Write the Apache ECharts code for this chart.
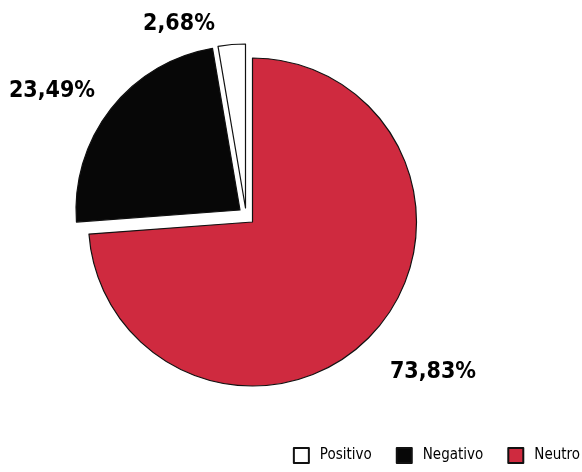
<!DOCTYPE html>
<html>
<head>
<meta charset="utf-8">
<script src="https://cdn.jsdelivr.net/npm/echarts@6/dist/echarts.min.js"></script>
<style>html,body{margin:0;padding:0;background:#fff}#c{width:582px;height:472px}</style>
</head>
<body>
<div id="c"></div>
<script>
const categories = ['Neutro', 'Negativo', 'Positivo'];
const values = [73.83, 23.49, 2.68];
const labelTexts = ['73,83%', '23,49%', '2,68%'];
const legendOrder = ['Positivo', 'Negativo', 'Neutro'];
const colors = ['#CF2A3F', '#070707', '#FFFFFF'];

const FONT = '"DejaVu Sans Condensed", "Liberation Sans Narrow", sans-serif';
// per-slice geometry (red in place, others exploded)
const centers = [[252.5, 222], [240, 210], [245.5, 208]];
const labelPos = [[433, 372], [52, 91], [179, 24]];

const series = categories.map((cat, i) => ({
  type: 'pie',
  silent: true,
  startAngle: 90,
  clockwise: true,
  center: centers[i],
  radius: 164,
  animation: false,
  labelLine: { show: false },
  label: {
    show: true,
    position: 'inner',
    overflow: 'none',
    fontFamily: FONT,
    fontWeight: 'bold',
    fontSize: 23,
    color: '#000',
    formatter: () => labelTexts[i]
  },
  labelLayout: () => ({ x: labelPos[i][0], y: labelPos[i][1], align: 'center', verticalAlign: 'middle' }),
  data: values.map((v, j) => j === i
    ? { value: v, name: categories[j], itemStyle: { color: colors[j], borderColor: '#111', borderWidth: 1.2 } }
    : { value: v, name: '', itemStyle: { color: 'transparent', borderWidth: 0 }, label: { show: false } })
}));

const chart = echarts.init(document.getElementById('c'), null, { renderer: 'canvas' });
chart.setOption({
  backgroundColor: '#fff',
  animation: false,
  legend: {
    data: legendOrder,
    right: -3,
    bottom: 3,
    itemWidth: 15,
    itemHeight: 15,
    itemGap: 24,
    icon: 'rect',
    textStyle: { fontFamily: FONT, fontSize: 15, color: '#000', padding: [5, 0, 0, 6] }
  },
  series: series
});
</script>
</body>
</html>
